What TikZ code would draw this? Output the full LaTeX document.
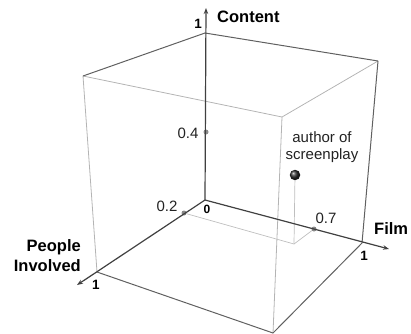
\documentclass[tikz,border=0pt]{standalone}
\usepackage{fontspec}
\setmainfont{Liberation Sans}
\usetikzlibrary{arrows.meta}
\definecolor{axisc}{HTML}{404040}
\definecolor{backc}{HTML}{606060}
\definecolor{lightc}{HTML}{B4B4B4}
\definecolor{dotc}{HTML}{888888}
\definecolor{ballc}{HTML}{2A2A2A}
\definecolor{textc}{HTML}{222222}
\tikzset{
  axisline/.style={draw=axisc, line width=1.2pt, -{Stealth[length=6pt,width=4.5pt]}},
  backedge/.style={draw=backc, line width=1pt},
  frontedge/.style={draw=lightc, line width=0.8pt},
  projline/.style={draw=lightc!85, line width=0.7pt},
  tick/.style={circle, fill=dotc, inner sep=0pt, minimum size=5pt},
  lab/.style={text=textc, font=\fontsize{15}{17}\selectfont, inner sep=1pt},
  blab/.style={text=black, font=\fontsize{16.5}{20}\selectfont\bfseries, inner sep=1pt},
  nlab/.style={text=black, font=\fontsize{13.5}{15}\selectfont\bfseries, inner sep=1pt},
}
\begin{document}
\begin{tikzpicture}[x=1pt,y=-1pt]
\useasboundingbox (0,0) rectangle (411,333);
% cube vertices
\coordinate (O) at (205,200);
\coordinate (Z1) at (205,33);
\coordinate (X1) at (362,243);
\coordinate (Y1) at (97,272);
\coordinate (YZ) at (83,76);
\coordinate (XZ) at (378,61);
\coordinate (XYZ) at (282,117);
\coordinate (XY) at (273,333);
\coordinate (Zend) at (206,8);
\coordinate (Xend) at (389,249);
\coordinate (Yend) at (77,285);
% light front edges
\draw[frontedge] (YZ) -- (XYZ) -- (XZ);
\draw[frontedge] (YZ) -- (Y1);
\draw[frontedge] (XYZ) -- (XY);
% darker edges
\draw[backedge] (YZ) -- (Z1) -- (XZ);
\draw[backedge] (XZ) -- (X1);
\draw[backedge] (Y1) -- (XY) -- (X1);
% projection lines
\node[tick] (p2) at (184,213) {};
\node[tick] (p7) at (314,229) {};
\node[tick] (p4) at (206,132) {};
\coordinate (P) at (294,244);
\draw[projline] (p2) -- (P) -- (p7);
\node[circle, inner sep=0pt, minimum size=10.5pt, shading=ball, ball color=ballc] (ball) at (295,175) {};
\draw[projline] (P) -- (ball);
% axes
\draw[axisline] (O) -- (Zend);
\draw[axisline] (O) -- (Xend);
\draw[axisline] (O) -- (Yend);
% labels
\node[blab, anchor=west] (lc) at (216,17) {Content};
\node[nlab] (l1z) at (198,24) {1};
\node[blab, anchor=west] (lf) at (373,229) {Film};
\node[nlab] (l1x) at (364,256) {1};
\node[blab, align=right, anchor=east] (lp) at (82,256) {People\\Involved};
\node[nlab] (l1y) at (96,285) {1};
\node[lab] (l4) at (188,133) {0.4};
\node[lab] (l2) at (167,206) {0.2};
\node[lab] (l7) at (326,218) {0.7};
\node[nlab, font=\fontsize{12}{13}\selectfont\bfseries] (l0) at (207,209) {0};
\node[lab, align=center] (la) at (322,147) {author of\\screenplay};
\end{tikzpicture}
\end{document}
